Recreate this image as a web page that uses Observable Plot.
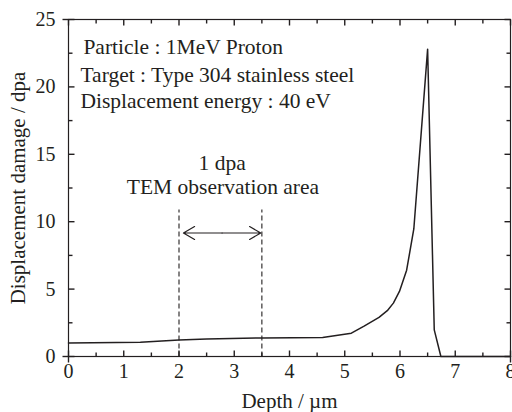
<!DOCTYPE html>
<html>
<head>
<meta charset="utf-8">
<script src="https://cdn.jsdelivr.net/npm/d3@7"></script>
<script src="https://cdn.jsdelivr.net/npm/@observablehq/plot@0.6"></script>
<style>
  html, body { margin: 0; padding: 0; background: #fff; }
  #chart { width: 512px; height: 412px; }
</style>
</head>
<body>
<div id="chart"></div>
<script>
// Depth (µm) and displacement damage (dpa)
const depth = [0, 1.3, 2, 2.5, 3.5, 4.6, 5.12, 5.35, 5.62, 5.77, 5.88, 5.99, 6.12, 6.25, 6.5, 6.62, 6.74, 8];
const dpa   = [1.0, 1.06, 1.23, 1.3, 1.38, 1.41, 1.73, 2.25, 2.9, 3.4, 3.96, 4.83, 6.4, 9.46, 22.8, 1.98, 0, 0];

const xMajor = [0, 1, 2, 3, 4, 5, 6, 7, 8];
const xMinor = [0.5, 1.5, 2.5, 3.5, 4.5, 5.5, 6.5, 7.5];
const yMajor = [0, 5, 10, 15, 20, 25];
const yMinor = [2.5, 7.5, 12.5, 17.5, 22.5];

const areaBounds = [2, 3.5];      // TEM observation area (µm)
const areaTop = 10.9;             // dashed line top (dpa)
const arrowLevel = 9.16;          // arrow height (dpa)
const arrowEnds = [2.08, 3.48];
const arrowMid = 2.78;

const infoLines = [
  "Particle : 1MeV Proton",
  "Target : Type 304 stainless steel",
  "Displacement energy : 40 eV"
];
const areaLines = ["1 dpa", "TEM observation area"];

const data = depth.map((d, i) => ({depth: d, dpa: dpa[i]}));

const ink = "#231f20";
const serif = "'Liberation Serif', serif";
const xDom = [0, 8], yDom = [0, 25];
const W = 512, H = 412, mL = 68, mR = 2, mT = 19, mB = 56;
const pxX = (xDom[1] - xDom[0]) / (W - mL - mR);
const pxY = (yDom[1] - yDom[0]) / (H - mT - mB);
const majLen = 6, minLen = 4, outLen = 6;

// inward tick segments on all four sides, built from the tick arrays
const tickSegs = [];
for (const v of xMajor) {
  tickSegs.push({x1: v, x2: v, y1: yDom[0], y2: yDom[0] + majLen * pxY});
  tickSegs.push({x1: v, x2: v, y1: yDom[1], y2: yDom[1] - majLen * pxY});
}
for (const v of xMinor) {
  tickSegs.push({x1: v, x2: v, y1: yDom[0], y2: yDom[0] + minLen * pxY});
  tickSegs.push({x1: v, x2: v, y1: yDom[1], y2: yDom[1] - minLen * pxY});
}
for (const v of yMajor) {
  tickSegs.push({y1: v, y2: v, x1: xDom[0], x2: xDom[0] + majLen * pxX});
  tickSegs.push({y1: v, y2: v, x1: xDom[1], x2: xDom[1] - majLen * pxX});
}
for (const v of yMinor) {
  tickSegs.push({y1: v, y2: v, x1: xDom[0], x2: xDom[0] + minLen * pxX});
  tickSegs.push({y1: v, y2: v, x1: xDom[1], x2: xDom[1] - minLen * pxX});
}
for (const v of yDom) tickSegs.push({y1: v, y2: v, x1: xDom[0] - outLen * pxX, x2: xDom[0]});
for (const v of xDom) tickSegs.push({x1: v, x2: v, y1: yDom[0] - outLen * pxY, y2: yDom[0]});

const areaSegs = areaBounds.map(v => ({x1: v, x2: v, y1: 0, y2: areaTop}));
const arrowSegs = arrowEnds.map(v => ({x1: arrowMid, x2: v, y1: arrowLevel, y2: arrowLevel}));

const chart = Plot.plot({
  width: W, height: H,
  marginLeft: mL, marginRight: mR, marginTop: mT, marginBottom: mB,
  style: {fontFamily: serif, color: ink, background: "#fff"},
  x: {domain: xDom},
  y: {domain: yDom},
  marks: [
    Plot.frame({stroke: ink, strokeWidth: 1.2}),
    Plot.link(tickSegs, {x1: "x1", y1: "y1", x2: "x2", y2: "y2", stroke: ink, strokeWidth: 1.4}),
    Plot.axisX(xMajor, {tickSize: 0, tickPadding: 7, fontSize: 20, label: null, fill: ink}),
    Plot.axisY(yMajor, {tickSize: 0, tickPadding: 13, fontSize: 20, label: null, fill: ink}),
    // dashed bounds of the observation area
    Plot.link(areaSegs, {x1: "x1", y1: "y1", x2: "x2", y2: "y2", stroke: ink, strokeWidth: 1.1, strokeDasharray: "5,3"}),
    // double-headed arrow
    Plot.arrow(arrowSegs, {x1: "x1", y1: "y1", x2: "x2", y2: "y2", stroke: ink, strokeWidth: 1.2, headLength: 19, headAngle: 60}),
    // damage profile
    Plot.line(data, {x: "depth", y: "dpa", stroke: ink, strokeWidth: 1.5}),
    // annotations
    Plot.text(infoLines, {
      x: [0.27, 0.217, 0.217], y: [22.95, 20.85, 18.92],
      text: d => d, textAnchor: "start", lineAnchor: "middle", fontSize: 21.5, fontFamily: serif, fill: ink
    }),
    Plot.text(areaLines, {
      x: [arrowMid, 2.795], y: [14.38, 12.56],
      text: d => d, textAnchor: "middle", lineAnchor: "middle", fontSize: 21.5, fontFamily: serif, fill: ink
    }),
    // axis titles
    Plot.text(["Depth / µm"], {frameAnchor: "bottom", dy: 45, text: d => d, textAnchor: "middle", lineAnchor: "middle", fontSize: 21, fontFamily: serif, fill: ink}),
    Plot.text(["Displacement damage / dpa"], {frameAnchor: "left", dx: -50, rotate: -90, text: d => d, textAnchor: "middle", lineAnchor: "middle", fontSize: 21, fontFamily: serif, fill: ink})
  ]
});
document.getElementById("chart").appendChild(chart);
</script>
</body>
</html>
